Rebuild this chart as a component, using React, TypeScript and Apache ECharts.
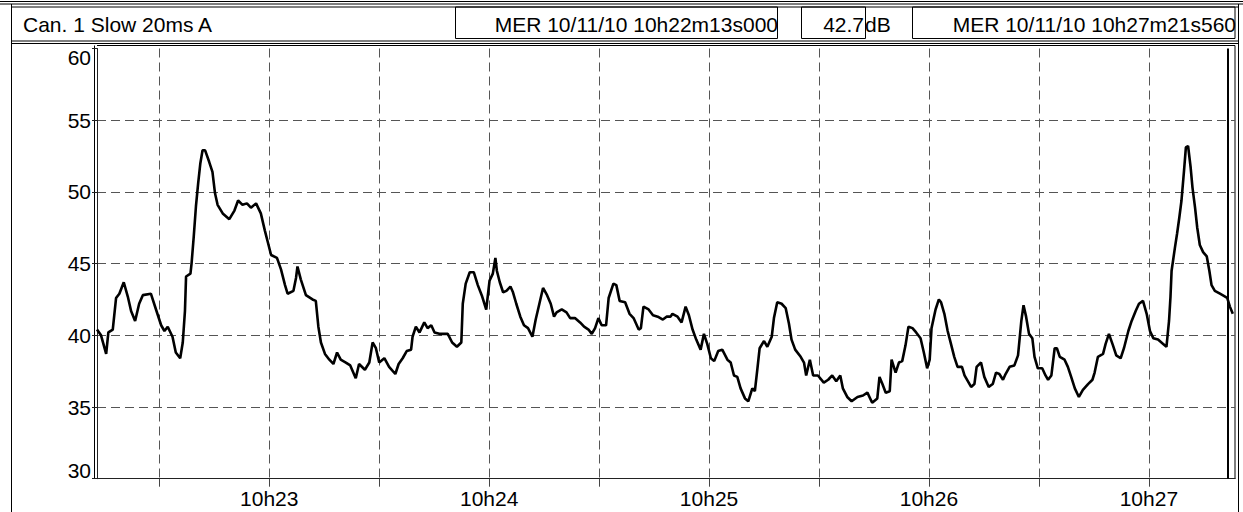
import React, { useEffect, useRef } from "react";
import * as echarts from "echarts";

// seconds after 10h22m00s
const seconds = [
  13.0, 14.1, 15.5, 16.1, 17.3, 18.2, 19.1, 20.3, 21.4, 22.3, 23.4, 24.5, 25.5, 27.7, 29.1, 30.5, 31.4, 32.3, 33.6, 34.5,
  35.7, 36.4, 37.0, 37.3, 38.5, 38.8, 39.4, 40.0, 40.6, 41.2, 41.8, 42.5, 43.6, 44.5, 45.2, 45.9, 47.3, 49.1, 50.5, 51.5,
  52.7, 53.9, 55.0, 56.4, 57.7, 58.8, 59.7, 60.5, 62.1, 63.2, 64.3, 65.0, 66.6, 67.3, 67.7, 68.6, 70.0, 71.8, 72.7, 73.4,
  74.1, 75.2, 76.4, 77.5, 78.5, 79.5, 80.9, 82.1, 83.6, 84.5, 86.1, 87.3, 88.2, 89.1, 90.0,
  91.4, 92.7, 94.4, 95.3, 96.4, 97.5, 98.7, 99.1, 100.0, 101.0, 102.3, 103.2, 104.2, 105.1, 106.4, 108.7, 109.9, 111.2,
  112.4, 112.8, 113.6, 114.7, 115.8, 116.9, 118.1, 119.2, 120.1, 121.0, 121.7, 122.1, 122.9, 123.8, 124.7, 125.8, 126.5,
  127.4, 128.5, 129.5, 130.6, 131.8, 132.7, 133.7, 134.7, 135.8, 136.8, 137.7, 138.4, 139.8, 141.1, 142.1, 143.4, 144.8,
  145.9, 147.1, 148.0, 148.9, 149.8, 150.7, 151.9, 152.6, 153.9, 154.7, 155.6, 157.1, 158.3, 159.4, 160.1, 160.8, 161.4,
  162.1, 163.5, 164.7, 166.0, 167.4, 168.4, 169.5,
  170.0, 171.4, 172.5, 173.6, 174.5, 175.5, 176.5, 177.7, 178.6, 179.5, 180.5, 181.4, 182.5, 183.6, 185.0, 185.9, 186.8,
  187.7, 188.6, 189.8, 190.7, 191.8, 192.5, 193.2, 193.8, 195.0, 195.9, 197.1, 197.7, 198.6, 199.8, 200.9, 201.8, 202.5,
  203.5, 205.0, 205.9, 206.5, 207.5, 208.4, 209.7, 211.3, 212.5, 213.6, 214.7, 215.8, 216.5, 217.7, 218.9, 220.5, 222.0,
  223.2, 224.5, 225.9, 226.5, 227.3, 228.2, 229.3, 229.8, 230.9, 231.8, 232.7, 233.6, 234.4, 235.5, 236.5, 237.7, 238.6,
  239.5, 240.2, 240.7, 241.8, 242.7,
  243.3, 244.2, 245.1, 246.0, 246.9, 247.8, 249.0, 249.7, 250.6, 251.5, 252.4, 253.0, 254.2, 255.1, 256.3, 257.4, 258.3,
  259.2, 260.2, 260.9, 262.0, 263.3, 264.3, 265.2, 265.8, 266.5, 267.3, 268.2, 268.8, 269.7, 270.9, 271.8, 272.5, 273.4,
  274.3, 274.9, 275.7, 277.0, 277.9, 278.8, 279.8, 280.9, 282.0, 283.4, 284.6, 285.2, 286.1, 287.5, 288.2, 289.1, 290.2,
  291.1, 292.3, 293.2, 294.4, 295.3, 296.4, 297.3, 298.4, 299.4, 300.3, 301.2, 302.5, 303.9, 304.8, 305.5, 305.9, 306.2,
  307.1, 307.7, 308.3, 308.9, 309.6, 310.1, 310.7, 311.4, 311.9, 312.6, 313.2, 313.9, 314.8, 315.8, 316.5, 317.1, 318.0,
  319.4, 320.8, 321.4, 322.1, 322.9,
];

// sound level, dB(A)
const levels = [
  40.4, 40.0, 38.7, 40.2, 40.4, 42.6, 42.9, 43.7, 42.7, 41.7, 41.0, 42.2, 42.8, 42.9, 41.8, 40.7, 40.3, 40.6, 39.9, 38.8,
  38.4, 39.5, 41.7, 44.1, 44.3, 45.0, 46.9, 49.0, 50.6, 52.0, 52.9, 52.9, 52.1, 51.4, 49.9, 49.1, 48.5, 48.1, 48.7, 49.4,
  49.1, 49.2, 48.9, 49.2, 48.5, 47.3, 46.4, 45.6, 45.4, 44.6, 43.5, 42.9, 43.1, 44.0, 44.8, 43.9, 42.8, 42.5, 42.4, 40.6,
  39.5, 38.7, 38.3, 38.0, 38.8, 38.3, 38.1, 37.9, 37.0, 38.0, 37.6, 38.1, 39.5, 39.1, 38.1,
  38.4, 37.8, 37.3, 38.0, 38.4, 38.9, 39.0, 39.9, 40.6, 40.2, 40.9, 40.5, 40.7, 40.2, 40.1, 40.1, 39.5, 39.2,
  39.5, 42.2, 43.6, 44.4, 44.4, 43.5, 42.7, 41.8, 43.8, 44.3, 45.4, 44.5, 43.7, 43.0, 43.1, 43.4, 43.0,
  42.2, 41.3, 40.7, 40.5, 39.9, 41.1, 42.2, 43.3, 42.8, 42.2, 41.3, 41.6, 41.8, 41.6, 41.2, 41.2, 40.9,
  40.6, 40.4, 40.1, 40.5, 41.2, 40.7, 40.7, 42.6, 43.6, 43.5, 42.4, 42.3, 41.5, 41.2, 40.8, 40.4, 40.5,
  42.0, 41.8, 41.4, 41.3, 41.1, 41.3, 41.3,
  41.5, 41.3, 40.9, 42.0, 41.4, 40.4, 39.7, 39.0, 40.1, 39.4, 38.4, 38.2, 38.9, 39.0, 38.3, 38.1, 37.2,
  37.1, 36.3, 35.6, 35.4, 36.3, 36.1, 37.7, 39.1, 39.6, 39.2, 39.9, 41.2, 42.3, 42.2, 41.9, 40.8, 39.7,
  39.0, 38.5, 38.1, 37.2, 38.3, 37.2, 37.2, 36.7, 36.9, 37.2, 36.8, 37.2, 36.3, 35.7, 35.4, 35.7, 35.8,
  36.0, 35.3, 35.6, 37.1, 36.6, 36.0, 36.1, 38.3, 37.4, 38.1, 38.2, 39.3, 40.6, 40.5, 40.2, 39.8, 38.8,
  37.7, 38.3, 40.5, 41.8, 42.5,
  42.3, 41.5, 40.3, 39.4, 38.5, 37.8, 37.8, 37.2, 36.8, 36.4, 36.6, 37.8, 38.1, 37.1, 36.4, 36.6, 37.4,
  37.3, 36.9, 37.3, 37.8, 37.9, 38.6, 41.0, 42.1, 41.3, 40.1, 39.8, 38.5, 37.7, 37.7, 37.2, 36.9, 37.2,
  39.1, 39.1, 38.5, 38.3, 37.8, 37.1, 36.3, 35.7, 36.2, 36.6, 36.9, 37.4, 38.5, 38.7, 39.4, 40.1, 39.3,
  38.6, 38.4, 39.1, 40.3, 41.0, 41.7, 42.2, 42.4, 41.5, 40.3, 39.8, 39.7, 39.4, 39.2, 41.0, 42.7, 44.5,
  46.1, 47.1, 48.2, 49.4, 51.5, 53.1, 53.2, 51.7, 50.3, 48.9, 47.5, 46.3, 45.8, 45.5, 44.5, 43.5, 43.1,
  42.9, 42.7, 42.6, 42.0, 41.5,
];

const xMin = 13; // 10h22m13s000
const xMax = 323.5;
const cursorSeconds = 321.56; // 10h27m21s560
const gridSeconds = [30, 60, 90, 120, 150, 180, 210, 240, 270, 300];
const labelSeconds = [60, 120, 180, 240, 300];
const labelTexts = ["10h23", "10h24", "10h25", "10h26", "10h27"];
const yMin = 30;
const yMax = 60;
const yStep = 5;

const channelText = "Can. 1 Slow 20ms A";
const startText = "MER 10/11/10 10h22m13s000";
const valueText = "42.7";
const unitText = "dB";
const endText = "MER 10/11/10 10h27m21s560";

const FONT = "'Liberation Sans', Arial, Helvetica, sans-serif";

export default function App() {
  const ref = useRef<HTMLDivElement>(null);

  useEffect(() => {
    if (!ref.current) return;
    const chart = echarts.init(ref.current, undefined, { renderer: "svg" });
    const data = seconds.map((s, i) => [s, levels[i]]);
    const line = (x1: number, y1: number, x2: number, y2: number, w = 1) => ({
      type: "line",
      shape: { x1, y1, x2, y2 },
      style: { stroke: "#000", lineWidth: w },
      silent: true,
    });
    const box = (x: number, y: number, width: number, height: number) => ({
      type: "rect",
      shape: { x, y, width, height },
      style: { fill: "none", stroke: "#000", lineWidth: 1 },
      silent: true,
    });
    const txt = (x: number, y: number, text: string, align: string) => ({
      type: "text",
      x,
      y,
      style: { text, font: `21px ${FONT}`, fill: "#000", align, verticalAlign: "middle" },
      silent: true,
    });

    chart.setOption({
      animation: false,
      backgroundColor: "#fff",
      grid: {
        left: 97,
        right: 8,
        top: 48.5,
        bottom: 33.3,
        show: false,
      },
      xAxis: {
        type: "value",
        min: xMin,
        max: xMax,
        axisLine: { show: true, onZero: false, lineStyle: { color: "#222", width: 1 } },
        axisTick: {
          show: true,
          length: 8,
          customValues: gridSeconds,
          lineStyle: { color: "#444", width: 1 },
        },
        axisLabel: {
          customValues: labelSeconds,
          formatter: (v: number) => labelTexts[labelSeconds.indexOf(Math.round(v))] ?? "",
          color: "#000",
          fontFamily: FONT,
          fontSize: 21,
          margin: 9,
        },
        splitLine: {
          show: true,
          lineStyle: { color: "#555", width: 1, type: [9, 5] },
        },
      },
      yAxis: {
        type: "value",
        min: yMin,
        max: yMax,
        interval: yStep,
        axisLine: { show: true, lineStyle: { color: "#222", width: 1 } },
        axisTick: { show: true, length: 5, lineStyle: { color: "#222" } },
        axisLabel: {
          color: "#000",
          fontFamily: FONT,
          fontSize: 21,
          margin: 6,
          formatter: (v: number) => (v === yMin ? `{lo|${v}}` : v === yMax ? `{hi|${v}}` : `${v}`),
          rich: {
            lo: { fontFamily: FONT, fontSize: 21, color: "#000", padding: [0, 0, 16, 0] },
            hi: { fontFamily: FONT, fontSize: 21, color: "#000", padding: [18, 0, 0, 0] },
          },
        },
        splitLine: {
          show: true,
          showMaxLine: false,
          lineStyle: { color: "#555", width: 1, type: [9, 5] },
        },
      },
      series: [
        {
          type: "line",
          data,
          showSymbol: false,
          symbol: "none",
          lineStyle: { color: "#000", width: 2.6 },
          silent: true,
          markLine: {
            silent: true,
            symbol: "none",
            label: { show: false },
            lineStyle: { color: "#000", width: 2, type: "solid" },
            data: [{ xAxis: cursorSeconds }],
          },
        },
      ],
      graphic: [
        // outer frame
        line(0, 1.5, 1243, 1.5),
        line(0, 4, 1243, 4),
        line(11.5, 4, 11.5, 512),
        line(1238.5, 4, 1238.5, 512),
        // header
        box(11.5, 7, 1227, 34),
        box(455.5, 7, 322, 31.5),
        box(801.5, 7, 64, 31.5),
        box(912.5, 7, 322.5, 31.5),
        txt(23, 24, channelText, "left"),
        txt(778, 24, startText, "right"),
        txt(864, 24, valueText, "right"),
        txt(865, 24, unitText, "left"),
        txt(1236, 24, endText, "right"),
        // plot frame
        line(11.5, 43.5, 1238.5, 43.5),
        line(97, 45.5, 1235, 45.5),
        line(1235, 45.5, 1235, 479),
        line(94.5, 45.5, 94.5, 479),
      ],
    });
    return () => chart.dispose();
  }, []);

  return (
    <div
      ref={ref}
      style={{ position: "fixed", left: 0, top: 0, width: 1243, height: 512, background: "#fff" }}
    />
  );
}
